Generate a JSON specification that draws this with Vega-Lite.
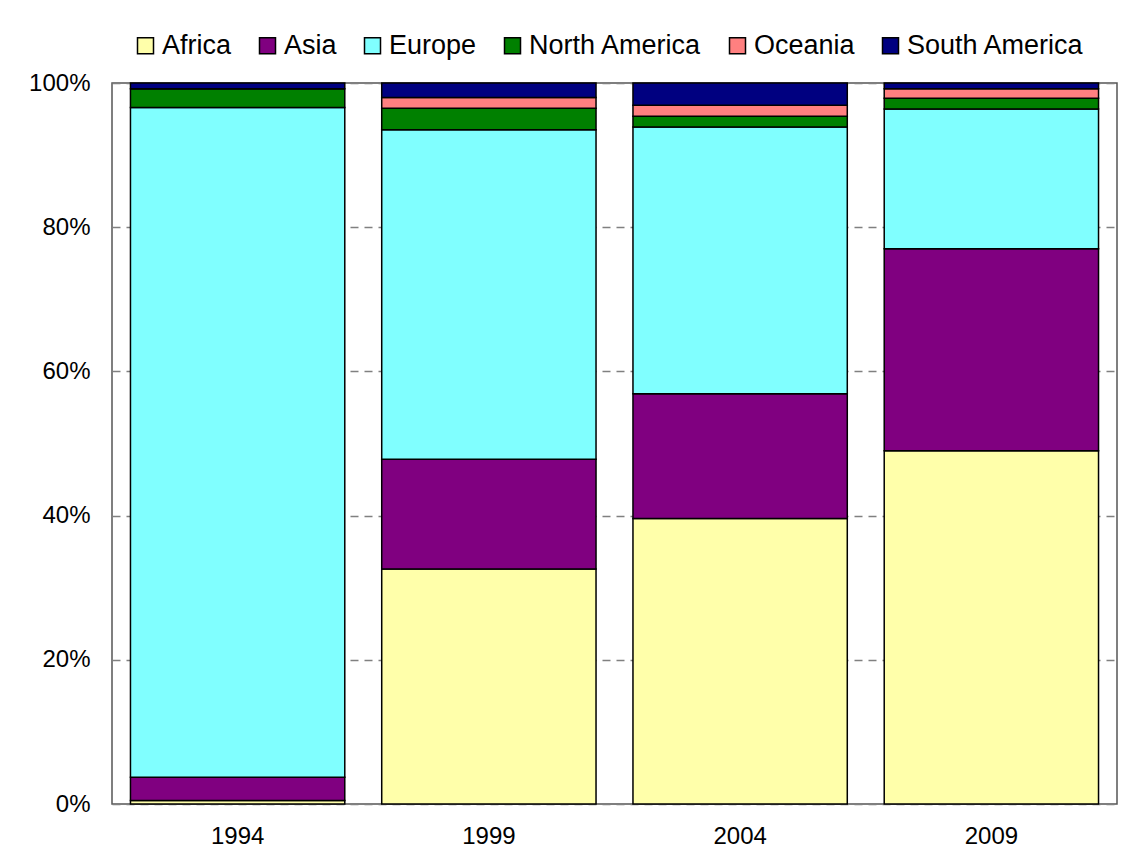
{
  "$schema": "https://vega.github.io/schema/vega-lite/v6.json",
  "width": 1005,
  "height": 721,
  "autosize": {"type": "none"},
  "padding": {"left": 112, "top": 83, "right": 13, "bottom": 55},
  "background": "white",
  "config": {
    "font": "Liberation Sans",
    "view": {"stroke": "#555555", "strokeWidth": 1.5}
  },
  "data": {
    "values": [
      {"year": "1994", "region": "Africa", "share": 0.5},
      {"year": "1994", "region": "Asia", "share": 3.2},
      {"year": "1994", "region": "Europe", "share": 92.9},
      {"year": "1994", "region": "North America", "share": 2.6},
      {"year": "1994", "region": "Oceania", "share": 0.0},
      {"year": "1994", "region": "South America", "share": 0.8},
      {"year": "1999", "region": "Africa", "share": 32.6},
      {"year": "1999", "region": "Asia", "share": 15.2},
      {"year": "1999", "region": "Europe", "share": 45.7},
      {"year": "1999", "region": "North America", "share": 3.0},
      {"year": "1999", "region": "Oceania", "share": 1.5},
      {"year": "1999", "region": "South America", "share": 2.0},
      {"year": "2004", "region": "Africa", "share": 39.6},
      {"year": "2004", "region": "Asia", "share": 17.3},
      {"year": "2004", "region": "Europe", "share": 37.0},
      {"year": "2004", "region": "North America", "share": 1.5},
      {"year": "2004", "region": "Oceania", "share": 1.5},
      {"year": "2004", "region": "South America", "share": 3.1},
      {"year": "2009", "region": "Africa", "share": 49.0},
      {"year": "2009", "region": "Asia", "share": 28.0},
      {"year": "2009", "region": "Europe", "share": 19.4},
      {"year": "2009", "region": "North America", "share": 1.5},
      {"year": "2009", "region": "Oceania", "share": 1.3},
      {"year": "2009", "region": "South America", "share": 0.8}
    ]
  },
  "mark": {"type": "bar", "stroke": "black", "strokeWidth": 1.5},
  "encoding": {
    "x": {
      "field": "year",
      "type": "nominal",
      "scale": {"paddingInner": 0.147, "paddingOuter": 0.0735},
      "axis": {
        "title": null,
        "labelAngle": 0,
        "labelFontSize": 24,
        "labelColor": "black",
        "labelPadding": 20,
        "ticks": false,
        "domain": false
      }
    },
    "y": {
      "field": "share",
      "type": "quantitative",
      "stack": "normalize",
      "scale": {"domain": [0, 1], "nice": false},
      "axis": {
        "title": null,
        "format": ".0%",
        "values": [0, 0.2, 0.4, 0.6, 0.8, 1],
        "labelFontSize": 24,
        "labelColor": "black",
        "labelPadding": 22,
        "ticks": false,
        "domain": false,
        "grid": true,
        "gridColor": "#808080",
        "gridWidth": 1.5,
        "gridDash": [8, 6]
      }
    },
    "color": {
      "field": "region",
      "type": "nominal",
      "scale": {
        "domain": ["Africa", "Asia", "Europe", "North America", "Oceania", "South America"],
        "range": ["#FFFFAA", "#800080", "#80FFFF", "#008000", "#FF8080", "#000080"]
      },
      "legend": {
        "title": null,
        "orient": "none",
        "legendX": 20,
        "legendY": -51,
        "direction": "horizontal",
        "symbolType": "square",
        "symbolSize": 256,
        "symbolStrokeColor": "black",
        "symbolStrokeWidth": 1.5,
        "symbolOpacity": 1,
        "labelFontSize": 27,
        "labelLimit": 400,
        "labelColor": "black",
        "labelOffset": 3,
        "columnPadding": 22
      }
    },
    "order": {"field": "region", "sort": "ascending"}
  }
}
